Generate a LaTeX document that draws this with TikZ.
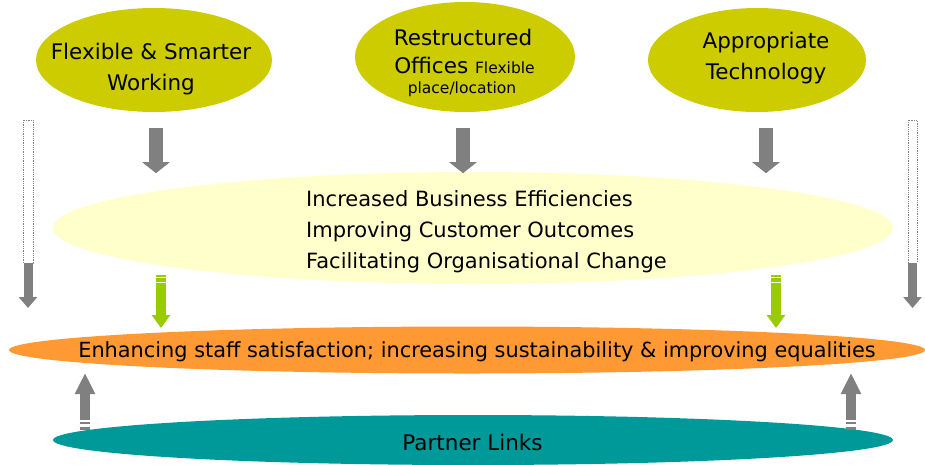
\documentclass[tikz,border=0pt]{standalone}
\usepackage{fontspec}
\setmainfont{DejaVu Sans}
\usetikzlibrary{arrows.meta,calc,shapes.geometric}

\definecolor{topfill}{HTML}{CCCC00}
\definecolor{midfill}{HTML}{FFFFCC}
\definecolor{staffill}{HTML}{FF9933}
\definecolor{partnerfill}{HTML}{009999}
\definecolor{arrowgrey}{HTML}{808080}
\definecolor{arrowgreen}{HTML}{99CC00}

\newcommand\smallsize{\fontsize{15.5}{19}\selectfont}

\tikzset{
  blob/.style={ellipse, inner sep=0pt, draw=none},
  bigtext/.style={font=\fontsize{21.5}{26}\selectfont, inner sep=0pt, anchor=base},
  midtext/.style={font=\fontsize{21}{26}\selectfont, inner sep=0pt, anchor=base west},
  greyblock/.style={arrowgrey, line width=14pt, -{Triangle[length=11pt,width=27pt]}},
  sideblock/.style={arrowgrey, line width=9pt, -{Triangle[length=11pt,width=18pt]}},
  sidefade/.style={arrowgrey, densely dotted, line width=0.8pt},
  greenblock/.style={arrowgreen, line width=9.3pt, -{Triangle[length=13pt,width=18pt]}},
  upblock/.style={arrowgrey, line width=10pt, -{Triangle[length=21pt,width=19pt]}},
}

\begin{document}
\begin{tikzpicture}[x=1pt,y=-1pt]
\useasboundingbox (0,0) rectangle (925,464);

% ellipses
\node[blob, fill=topfill, minimum width=236pt, minimum height=104pt] (fsw) at (154,60) {};
\node[blob, fill=topfill, minimum width=220pt, minimum height=110pt] (ro) at (465,57) {};
\node[blob, fill=topfill, minimum width=218pt, minimum height=104pt] (tech) at (757,60) {};
\node[blob, fill=midfill, minimum width=840pt, minimum height=112pt] (gains) at (473,228) {};
\node[blob, fill=staffill, minimum width=916pt, minimum height=47pt] (staff) at (467,350) {};
\node[blob, fill=partnerfill, minimum width=840pt, minimum height=50pt] (partner) at (473,440) {};

% labels of the top ellipses
\node[bigtext] (fsw1) at (151,59) {Flexible \& Smarter};
\node[bigtext] (fsw2) at (151,90) {Working};
\node[bigtext] (ro1) at (463,45) {Restructured};
\node[bigtext] (ro2) at (464.5,73) {Offices {\smallsize Flexible}};
\node[bigtext, font=\smallsize] (ro3) at (462,93) {place/location};
\node[bigtext] (tech1) at (766,48) {Appropriate};
\node[bigtext] (tech2) at (766,79) {Technology};

% benefits
\node[midtext] (g1) at (306,206) {Increased Business Efficiencies};
\node[midtext] (g2) at (306,237) {Improving Customer Outcomes};
\node[midtext] (g3) at (306,268) {Facilitating Organisational Change};

\node[bigtext, font=\fontsize{20.85}{24}\selectfont] (stafftext) at (477,357) {Enhancing staff satisfaction; increasing sustainability \& improving equalities};
\node[bigtext] (partnertext) at (472.5,450.5) {Partner Links};

% grey arrows from the top ellipses into the benefits
\draw[greyblock] ($(fsw.south)+(2,16)$) -- ($(fsw.south)+(2,61)$);
\draw[greyblock] ($(ro.south)+(-2,16)$) -- ($(ro.south)+(-2,61)$);
\draw[greyblock] ($(tech.south)+(9,16)$) -- ($(tech.south)+(9,61)$);

% long side arrows, faded at the top
\coordinate (lsTop) at (28,120);
\coordinate (lsMid) at (28,263);
\coordinate (lsTip) at (28,308);
\coordinate (rsTop) at (912.5,120);
\coordinate (rsMid) at (912.5,263);
\coordinate (rsTip) at (912.5,308);
\draw[sidefade] ($(lsTop)+(-5,0)$) rectangle ($(lsMid)+(5,0)$);
\draw[sideblock] (lsMid) -- (lsTip);
\draw[sidefade] ($(rsTop)+(-4.5,0)$) rectangle ($(rsMid)+(4.5,0)$);
\draw[sideblock] (rsMid) -- (rsTip);

% green arrows from the benefits to staff satisfaction
\coordinate (lgTop) at (161,283);
\coordinate (lgTip) at (161,328);
\coordinate (rgTop) at (776,283);
\coordinate (rgTip) at (776,328);
\foreach \c in {lgTop,rgTop}{
  \fill[arrowgreen] ($(\c)+(-4.65,-8)$) rectangle ($(\c)+(4.65,-6)$);
  \fill[arrowgreen] ($(\c)+(-4.65,-4.7)$) rectangle ($(\c)+(4.65,-1.3)$);
}
\draw[greenblock] (lgTop) -- (lgTip);
\draw[greenblock] (rgTop) -- (rgTip);

% grey arrows up from the partner links
\coordinate (luBase) at (85,420);
\coordinate (luTip) at (85,373);
\coordinate (ruBase) at (851,420);
\coordinate (ruTip) at (851,373);
\foreach \c in {luBase,ruBase}{
  \fill[arrowgrey] ($(\c)+(-5,2.3)$) rectangle ($(\c)+(5,4.3)$);
  \fill[arrowgrey] ($(\c)+(-5,6.7)$) rectangle ($(\c)+(5,10)$);
}
\draw[upblock] (luBase) -- (luTip);
\draw[upblock] (ruBase) -- (ruTip);
\end{tikzpicture}
\end{document}
